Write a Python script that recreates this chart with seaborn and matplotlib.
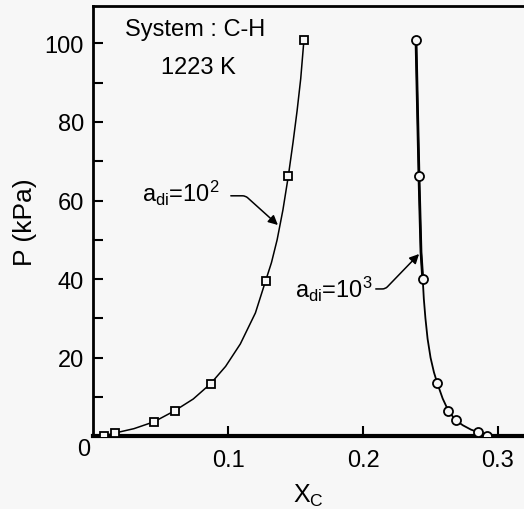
import matplotlib
matplotlib.use("Agg")
import matplotlib.pyplot as plt
import seaborn as sns

# values (x_C vs P in kPa)
# measured points, a_di = 10^2 (squares)
xc_100 = [0.0078, 0.0159, 0.0449, 0.0602, 0.0869, 0.1277, 0.1445, 0.1561]
p_100 = [0.15, 0.84, 3.7, 6.5, 13.4, 39.6, 66.2, 100.9]
# traced curve, a_di = 10^2
curve_xc_100 = [0.0078, 0.0159, 0.030, 0.0449, 0.0602, 0.074, 0.0869, 0.098,
                0.1089, 0.1201, 0.1277, 0.1320, 0.1362, 0.1405, 0.1445,
                0.1480, 0.1510, 0.1537, 0.1561]
curve_p_100 = [0.15, 0.84, 1.95, 3.7, 6.5, 9.5, 13.4, 17.8,
               23.5, 31.4, 39.6, 44.2, 50.0, 57.6, 66.2,
               74.8, 82.8, 91.0, 100.9]

# measured points, a_di = 10^3 (circles)
xc_1000 = [0.2392, 0.2414, 0.2442, 0.2550, 0.2632, 0.2686, 0.2850, 0.2921]
p_1000 = [100.9, 66.3, 40.0, 13.5, 6.5, 4.1, 1.2, 0.15]
# traced curve, a_di = 10^3
curve_xc_1000 = [0.2392, 0.2414, 0.2429, 0.2442, 0.2450, 0.2462, 0.2478,
                 0.2500, 0.2525, 0.2550, 0.2590, 0.2632, 0.2686, 0.2740,
                 0.2800, 0.2850, 0.2921]
curve_p_1000 = [100.9, 66.3, 46.9, 40.0, 35.0, 30.0, 24.8,
                20.0, 16.3, 13.5, 9.6, 6.5, 4.1, 2.8,
                1.7, 1.1, 0.15]

x_ticks = [0.1, 0.2, 0.3]
y_ticks = [20, 40, 60, 80, 100]
y_minor = [10, 30, 50, 70, 90]

sns.set_style("ticks")
plt.rcParams["font.family"] = ["DejaVu Sans Condensed", "Liberation Sans Narrow",
                               "Liberation Sans", "DejaVu Sans"]
plt.rcParams["mathtext.default"] = "regular"
plt.rcParams["text.color"] = "black"
plt.rcParams["axes.labelcolor"] = "black"

bg = "#f7f7f7"
fig = plt.figure(figsize=(5.24, 5.10), dpi=100, facecolor=bg)
ax = fig.add_axes([0.1784, 0.1425, 1.0 - 0.1784, 0.9863 - 0.1425])
ax.set_facecolor(bg)

# curves
sns.lineplot(x=curve_xc_100, y=curve_p_100, sort=False, estimator=None,
             color="black", lw=1.1, ax=ax)
sns.lineplot(x=curve_xc_1000, y=curve_p_1000, sort=False, estimator=None,
             color="black", lw=1.3, ax=ax)
sns.lineplot(x=curve_xc_1000[:4], y=curve_p_1000[:4], sort=False, estimator=None,
             color="black", lw=2.0, ax=ax)

# markers
ax.plot(xc_100, p_100, ls="none", marker="s", ms=6, mfc=bg, mec="black", mew=1.3, zorder=5)
ax.plot(xc_1000, p_1000, ls="none", marker="o", ms=6.5, mfc=bg, mec="black", mew=1.3, zorder=5)

ax.set_xlim(0, 0.3193)
ax.set_ylim(0, 109.5)
ax.set_xticks(x_ticks)
ax.set_xticklabels(["0.1", "0.2", "0.3"])
ax.set_yticks(y_ticks)
ax.set_yticks(y_minor, minor=True)
ax.tick_params(axis="both", which="both", direction="in", length=7, width=1.5,
               labelsize=17, color="black", labelcolor="black")
ax.tick_params(axis="x", pad=9)
ax.tick_params(axis="y", pad=7)

for side in ["left", "top"]:
    ax.spines[side].set_linewidth(2.0)
    ax.spines[side].set_color("black")
ax.spines["bottom"].set_linewidth(3.0)
ax.spines["bottom"].set_color("black")
ax.spines["right"].set_visible(False)

ax.set_xlabel("X$_C$", fontsize=18, labelpad=8)
ax.set_ylabel("P (kPa)", fontsize=19, labelpad=5)
ax.text(-0.007, -3.2, "0", fontsize=17, ha="center", va="center", clip_on=False)

ax.text(0.0753, 103.6, "System : C-H", fontsize=17, ha="center", va="center")
ax.text(0.0779, 94.0, "1223 K", fontsize=17, ha="center", va="center")

ax.text(0.036, 59.9, "a$_{di}$=10$^2$", fontsize=17, ha="left", va="baseline")
ax.annotate("", xy=(0.1383, 53.3), xytext=(0.0998, 61.2),
            arrowprops=dict(arrowstyle="-|>", color="black", lw=1.1,
                            mutation_scale=14,
                            connectionstyle="angle,angleA=0,angleB=-42,rad=3"))

ax.text(0.1494, 35.4, "a$_{di}$=10$^3$", fontsize=17, ha="left", va="baseline")
ax.annotate("", xy=(0.2429, 46.9), xytext=(0.2073, 37.5),
            arrowprops=dict(arrowstyle="-|>", color="black", lw=1.1,
                            mutation_scale=14,
                            connectionstyle="angle,angleA=0,angleB=46,rad=3"))

fig.savefig("out.png", dpi=100, facecolor=bg)
